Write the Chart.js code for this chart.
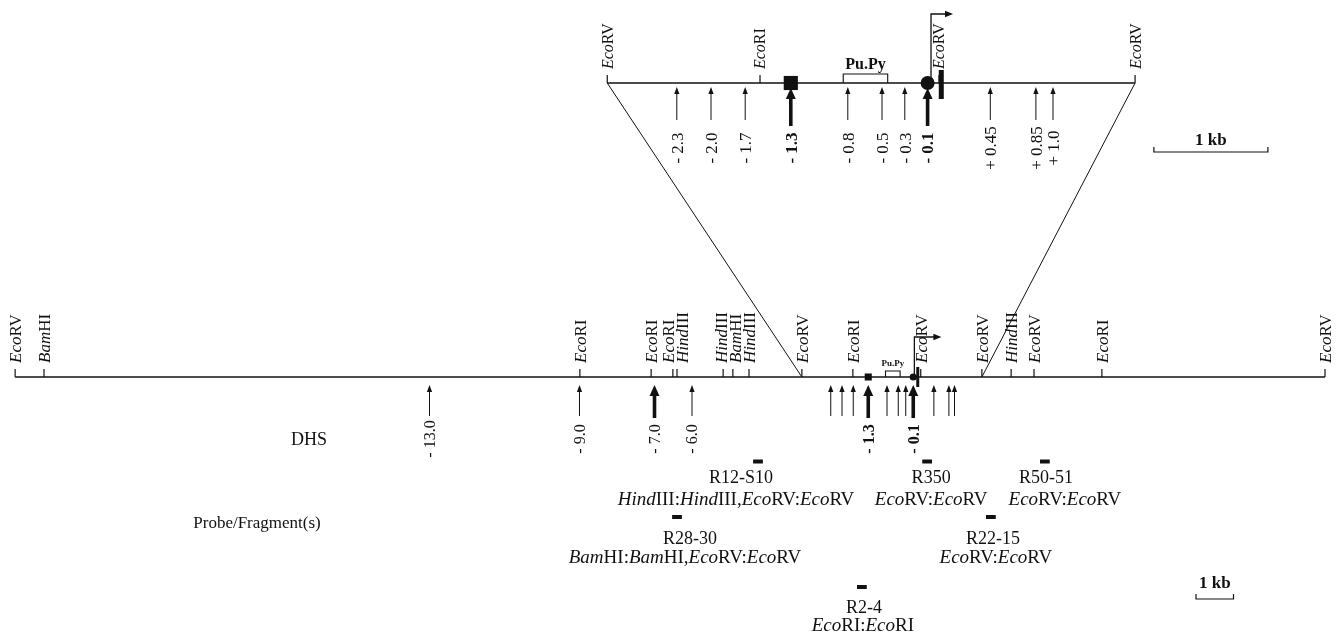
<!DOCTYPE html>
<html>
<head>
<meta charset="utf-8">
<title>DHS map</title>
<script src="https://cdn.jsdelivr.net/npm/chart.js@4.4.1/dist/chart.umd.min.js"></script>
<style>
  html, body { margin: 0; padding: 0; background: #fff; }
  #wrap { width: 1338px; height: 633px; position: relative; }
</style>
</head>
<body>
<div id="wrap"><canvas id="mapa"></canvas></div>
<script>
// ---- data (positions in kb, relative to the transcription start) ----
// *text* = italic part of an enzyme name
const dhsPositions = [-13.0, -9.0, -7.0, -6.0, -2.3, -2.0, -1.7, -1.3, -0.8, -0.5, -0.3, -0.1, 0.45, 0.85, 1.0];
const dhsLabels = ['- 13.0', '- 9.0', '- 7.0', '- 6.0', '- 2.3', '- 2.0', '- 1.7', '- 1.3', '- 0.8', '- 0.5', '- 0.3', '- 0.1', '+ 0.45', '+ 0.85', '+ 1.0'];
const dhsStrong = [false, false, true, false, false, false, false, true, false, false, false, true, false, false, false];
const dhsBold = [false, false, false, false, false, false, false, true, false, false, false, true, false, false, false];
const dhsOnBottomMap = [true, true, true, true, false, false, false, true, false, false, false, true, false, false, false];

const bottomSiteNames = ['*Eco*RV', '*Bam*HI', '*Eco*RI', '*Eco*RI', '*Eco*RI', '*Hind*III', '*Hind*III', '*Bam*HI', '*Hind*III',
                         '*Eco*RV', '*Eco*RI', '*Eco*RV', '*Eco*RV', '*Hind*III', '*Eco*RV', '*Eco*RI', '*Eco*RV'];
const bottomSiteKb = [-24.05, -23.28, -8.99, -7.09, -6.51, -6.40, -5.17, -4.91, -4.48,
                      -3.07, -1.71, 0.10, 1.73, 2.51, 3.12, 4.93, 10.88];

const topSiteNames = ['*Eco*RV', '*Eco*RI', '*Eco*RV', '*Eco*RV'];
const topSiteKb = [-2.91, -1.57, 0.0, 1.72];

const markerKb = [-1.3, -0.1];
const markerShape = ['rect', 'circle'];
const puPyKb = [-0.84, -0.45];
const tssKb = -0.07;
const exonKb = 0.02;

const probeNames = ['R12-S10', 'R350', 'R50-51', 'R28-30', 'R22-15', 'R2-4'];
const probeFragments = ['*Hind*III:*Hind*III,*Eco*RV:*Eco*RV', '*Eco*RV:*Eco*RV', '*Eco*RV:*Eco*RV',
                        '*Bam*HI:*Bam*HI,*Eco*RV:*Eco*RV', '*Eco*RV:*Eco*RV', '*Eco*RI:*Eco*RI'];
const probeKb = [-4.24, 0.27, 3.41, -6.40, 1.97, -1.47];
const probeLengthKb = 0.26;
const probeRow = [0, 0, 0, 1, 1, 2];

// ---- layout ----
const SERIF = '"Liberation Serif", "Times New Roman", serif';
const INK = '#111';
const Y = {
    topLine: 83, botLine: 377,
    topArrowTip: 87, topArrowEnd: 120, topLabel: 148,
    botArrowTip: 385, botArrowEnd: 416, botLabel: 439,
    probeBar: [461.5, 517, 587], probeName: [483, 544, 613], probeFrag: [505, 563, 631]
};
const probeNameDx = [-17, 4, 1, 13, 2, 2];
const probeFragDx = [-22, 4, 20, 8, 5, 1];

function fontStr(size, italic, bold) {
    return (italic ? 'italic ' : '') + (bold ? 'bold ' : '') + size + 'px ' + SERIF;
}

function drawRich(ctx, txt, x, y, size, align, bold) {
    const parts = txt.split('*');
    let w = 0;
    parts.forEach((p, i) => { ctx.font = fontStr(size, i % 2 === 1, bold); w += ctx.measureText(p).width; });
    let cx = align === 'center' ? x - w / 2 : (align === 'right' ? x - w : x);
    ctx.textAlign = 'left';
    parts.forEach((p, i) => {
        ctx.font = fontStr(size, i % 2 === 1, bold);
        ctx.fillText(p, cx, y);
        cx += ctx.measureText(p).width;
    });
}

// push crowded labels apart, keeping each group centred on its sites
function spreadLabels(xs, gap) {
    let groups = xs.map(x => [x]);
    const pos = g => {
        const m = g.reduce((s, v) => s + v, 0) / g.length;
        return g.map((_, k) => m + (k - (g.length - 1) / 2) * gap);
    };
    let merged = true;
    while (merged) {
        merged = false;
        for (let i = 0; i < groups.length - 1; i++) {
            const a = pos(groups[i]), b = pos(groups[i + 1]);
            if (b[0] - a[a.length - 1] < gap - 0.01) {
                groups.splice(i, 2, groups[i].concat(groups[i + 1]));
                merged = true;
                break;
            }
        }
    }
    return groups.flatMap(pos);
}

function upArrow(ctx, x, yTip, yEnd, thick) {
    const lw = thick ? 3.6 : 1, hl = thick ? 11 : 7, hw = thick ? 5 : 2.6;
    ctx.lineWidth = lw;
    ctx.beginPath(); ctx.moveTo(x, yTip + hl - 1); ctx.lineTo(x, yEnd); ctx.stroke();
    ctx.beginPath(); ctx.moveTo(x, yTip); ctx.lineTo(x - hw, yTip + hl); ctx.lineTo(x + hw, yTip + hl); ctx.closePath(); ctx.fill();
}

function bentArrow(ctx, x, yBase, yTop, len) {
    ctx.lineWidth = 1.3;
    ctx.beginPath(); ctx.moveTo(x, yBase); ctx.lineTo(x, yTop); ctx.lineTo(x + len - 6, yTop); ctx.stroke();
    ctx.beginPath(); ctx.moveTo(x + len, yTop); ctx.lineTo(x + len - 8, yTop - 3.2); ctx.lineTo(x + len - 8, yTop + 3.2); ctx.closePath(); ctx.fill();
}

function rotatedLabel(ctx, txt, x, yStart, size, align, bold) {
    ctx.save();
    ctx.translate(x + 0.34 * size, yStart);
    ctx.rotate(-Math.PI / 2);
    ctx.textBaseline = 'alphabetic';
    drawRich(ctx, txt, 0, 0, size, align, bold);
    ctx.restore();
}

function siteTicks(ctx, scale, names, kbs, yLine, fs) {
    const xs = kbs.map(v => scale.getPixelForValue(v));
    const lx = spreadLabels(xs, 14);
    ctx.lineWidth = 1.2;
    xs.forEach((x, i) => {
        ctx.beginPath(); ctx.moveTo(x, yLine); ctx.lineTo(x, yLine - 8); ctx.stroke();
        rotatedLabel(ctx, names[i], lx[i], yLine - 14, fs, 'left', false);
    });
}

function scaleBar(ctx, x0, x1, y, yText, fs) {
    ctx.lineWidth = 1.2;
    ctx.beginPath(); ctx.moveTo(x0, y - 5); ctx.lineTo(x0, y); ctx.lineTo(x1, y); ctx.lineTo(x1, y - 5); ctx.stroke();
    drawRich(ctx, '1 kb', (x0 + x1) / 2, yText, fs, 'center', true);
}

const mapPlugin = {
    id: 'mapPlugin',
    beforeDatasetsDraw(chart) {
        const ctx = chart.ctx, xb = chart.scales.xBot, xt = chart.scales.xTop, ys = chart.scales.y;
        const yT = ys.getPixelForValue(Y.topLine), yB = ys.getPixelForValue(Y.botLine);
        ctx.save();
        ctx.strokeStyle = INK; ctx.fillStyle = INK;

        // zoom lines between the maps
        ctx.lineWidth = 1;
        [[topSiteKb[0], bottomSiteKb[9]], [topSiteKb[topSiteKb.length - 1], bottomSiteKb[12]]].forEach(([a, b]) => {
            ctx.beginPath(); ctx.moveTo(xt.getPixelForValue(a), yT); ctx.lineTo(xb.getPixelForValue(b), yB); ctx.stroke();
        });

        // DHS arrows
        dhsPositions.forEach((v, i) => {
            if (v >= topSiteKb[0] && v <= topSiteKb[topSiteKb.length - 1]) {
                const x = xt.getPixelForValue(v);
                upArrow(ctx, x, Y.topArrowTip + (dhsStrong[i] ? 1 : 0), Y.topArrowEnd + (dhsStrong[i] ? 6 : 0), dhsStrong[i]);
                ctx.save(); ctx.translate(x + 0.34 * 17, Y.topLabel); ctx.rotate(-Math.PI / 2);
                drawRich(ctx, dhsLabels[i], 0, 0, 17, 'center', dhsBold[i]); ctx.restore();
            }
            const xB = xb.getPixelForValue(v);
            upArrow(ctx, xB, Y.botArrowTip, Y.botArrowEnd + (dhsStrong[i] ? 2 : 0), dhsStrong[i]);
            if (dhsOnBottomMap[i]) {
                ctx.save(); ctx.translate(xB + 0.34 * 16, Y.botLabel); ctx.rotate(-Math.PI / 2);
                drawRich(ctx, dhsLabels[i], 0, 0, 16, 'center', dhsBold[i]); ctx.restore();
            }
        });

        // restriction sites
        siteTicks(ctx, xt, topSiteNames, topSiteKb, yT, 16);
        siteTicks(ctx, xb, bottomSiteNames, bottomSiteKb, yB, 17);

        // Pu.Py boxes
        ctx.lineWidth = 1.1;
        [[xt, yT, 9, 16, 69], [xb, yB, 6, 9, 366]].forEach(([sc, yl, h, fs, yl2]) => {
            const a = sc.getPixelForValue(puPyKb[0]), b = sc.getPixelForValue(puPyKb[1]);
            ctx.beginPath(); ctx.moveTo(a, yl); ctx.lineTo(a, yl - h); ctx.lineTo(b, yl - h); ctx.lineTo(b, yl); ctx.stroke();
            drawRich(ctx, 'Pu.Py', (a + b) / 2, yl2, fs, 'center', true);
        });

        // transcription start + exon block
        bentArrow(ctx, xt.getPixelForValue(tssKb), yT, 14, 22);
        bentArrow(ctx, xb.getPixelForValue(tssKb), yB, 337, 27);
        let ex = xt.getPixelForValue(exonKb);
        ctx.fillRect(ex - 2.5, yT - 13, 5, 29);
        ex = xb.getPixelForValue(exonKb);
        ctx.fillRect(ex - 1.5, yB - 10, 3, 20);
        ctx.restore();
    },
    afterDatasetsDraw(chart) {
        const ctx = chart.ctx, xb = chart.scales.xBot, xt = chart.scales.xTop;
        ctx.save();
        ctx.strokeStyle = INK; ctx.fillStyle = INK;
        ctx.textBaseline = 'alphabetic';

        // probes
        probeNames.forEach((name, i) => {
            const r = probeRow[i];
            const a = xb.getPixelForValue(probeKb[i] - probeLengthKb / 2), b = xb.getPixelForValue(probeKb[i] + probeLengthKb / 2);
            ctx.fillRect(a, Y.probeBar[r] - 2, b - a, 4);
            const c = (a + b) / 2;
            drawRich(ctx, name, c + probeNameDx[i], Y.probeName[r], 18, 'center', false);
            drawRich(ctx, probeFragments[i], c + probeFragDx[i], Y.probeFrag[r], 19, 'center', false);
        });

        drawRich(ctx, 'DHS', 309, 445, 18, 'center', false);
        drawRich(ctx, 'Probe/Fragment(s)', 257, 528, 17, 'center', false);

        // 1 kb scale bars
        scaleBar(ctx, xt.getPixelForValue(1.885), xt.getPixelForValue(2.885), 152, 145, 17);
        scaleBar(ctx, xb.getPixelForValue(7.44), xb.getPixelForValue(8.44), 599, 588, 17);
        ctx.restore();
    }
};

const ctx = document.getElementById('mapa').getContext('2d');
new Chart(ctx, {
    type: 'scatter',
    data: {
        datasets: [
            {
                label: 'mapa ampliado',
                data: [{ x: topSiteKb[0], y: Y.topLine }, { x: topSiteKb[topSiteKb.length - 1], y: Y.topLine }],
                xAxisID: 'xTop', yAxisID: 'y',
                showLine: true, borderColor: INK, borderWidth: 1.3, pointRadius: 0
            },
            {
                label: 'mapa',
                data: [{ x: bottomSiteKb[0], y: Y.botLine }, { x: bottomSiteKb[bottomSiteKb.length - 1], y: Y.botLine }],
                xAxisID: 'xBot', yAxisID: 'y',
                showLine: true, borderColor: INK, borderWidth: 1.3, pointRadius: 0
            },
            {
                label: 'marcas ampliadas',
                data: markerKb.map(v => ({ x: v, y: Y.topLine })),
                xAxisID: 'xTop', yAxisID: 'y',
                pointStyle: markerShape, pointRadius: [10, 7], backgroundColor: INK, borderColor: INK, borderWidth: 0
            },
            {
                label: 'marcas',
                data: markerKb.map(v => ({ x: v, y: Y.botLine })),
                xAxisID: 'xBot', yAxisID: 'y',
                pointStyle: markerShape, pointRadius: [5, 3.6], backgroundColor: INK, borderColor: INK, borderWidth: 0
            }
        ]
    },
    options: {
        responsive: true,
        maintainAspectRatio: false,
        animation: false,
        events: [],
        layout: { padding: 0, autoPadding: false },
        plugins: { legend: { display: false }, tooltip: { enabled: false }, title: { display: false } },
        scales: {
            xBot: { type: 'linear', position: 'bottom', min: -917 / 37.5, max: 421 / 37.5, display: false },
            xTop: { type: 'linear', position: 'top', min: -939 / 114, max: 399 / 114, display: false },
            y: { type: 'linear', min: 0, max: 633, reverse: true, display: false }
        }
    },
    plugins: [mapPlugin]
});
</script>
</body>
</html>
